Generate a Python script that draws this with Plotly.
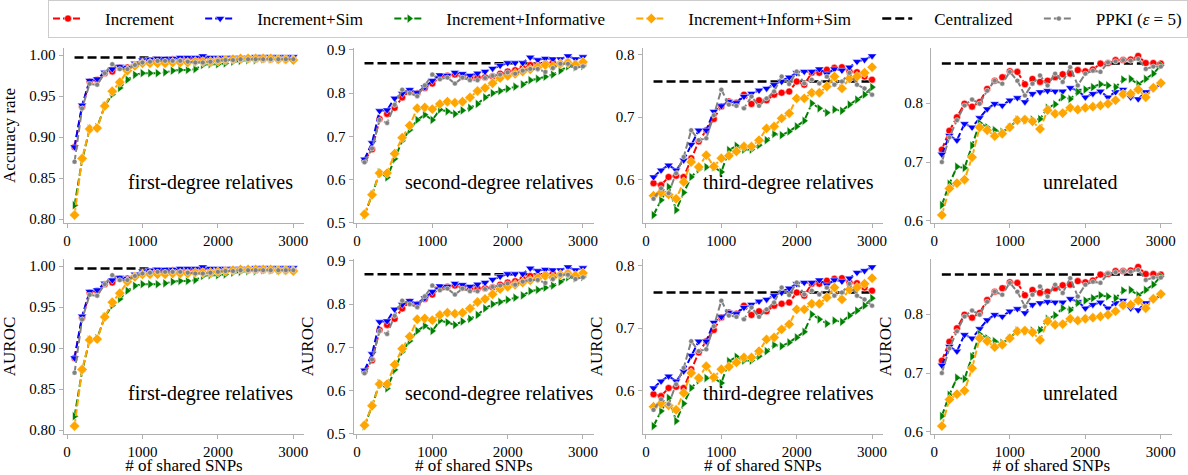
import plotly.graph_objects as go

SNPS = list(range(100, 3001, 100))
PANELS = ["first-degree relatives", "second-degree relatives", "third-degree relatives", "unrelated"]
METHODS = ["Increment", "Increment+Sim", "Increment+Informative", "Increment+Inform+Sim", "Centralized", "PPKI (<i>ε</i> = 5)"]

# ---- first-degree relatives ----
inc_1 = [0.888, 0.937, 0.968, 0.970, 0.978, 0.980, 0.985, 0.985, 0.988, 0.992, 0.993, 0.994, 0.994, 0.995, 0.995,
         0.995, 0.995, 0.996, 0.995, 0.995, 0.995, 0.995, 0.995, 0.995, 0.995, 0.995, 0.995, 0.995, 0.995, 0.995]
sim_1 = [0.888, 0.939, 0.969, 0.971, 0.979, 0.983, 0.986, 0.985, 0.990, 0.994, 0.995, 0.996, 0.996, 0.996, 0.997,
         0.997, 0.997, 0.999, 0.997, 0.997, 0.997, 0.997, 0.997, 0.997, 0.998, 0.998, 0.998, 0.998, 0.998, 0.998]
info_1 = [0.817, 0.872, 0.910, 0.912, 0.938, 0.952, 0.960, 0.970, 0.976, 0.978, 0.978, 0.978, 0.979, 0.981, 0.982,
          0.982, 0.983, 0.988, 0.989, 0.989, 0.990, 0.992, 0.993, 0.994, 0.994, 0.995, 0.995, 0.995, 0.995, 0.995]
infsim_1 = [0.805, 0.874, 0.910, 0.911, 0.938, 0.956, 0.967, 0.981, 0.987, 0.990, 0.990, 0.990, 0.990, 0.991, 0.991,
            0.991, 0.992, 0.992, 0.992, 0.993, 0.994, 0.995, 0.996, 0.996, 0.996, 0.996, 0.996, 0.995, 0.995, 0.994]
ppki_1 = [0.870, 0.935, 0.965, 0.964, 0.978, 0.989, 0.983, 0.983, 0.988, 0.991, 0.992, 0.993, 0.993, 0.993, 0.993,
          0.992, 0.991, 0.991, 0.992, 0.993, 0.994, 0.994, 0.995, 0.995, 0.995, 0.995, 0.995, 0.995, 0.995, 0.995]
cent_1 = 0.997

# ---- second-degree relatives ----
inc_2 = [0.645, 0.670, 0.740, 0.752, 0.766, 0.790, 0.805, 0.800, 0.812, 0.822, 0.838, 0.840, 0.843, 0.838, 0.836,
         0.836, 0.837, 0.839, 0.845, 0.850, 0.853, 0.858, 0.865, 0.866, 0.868, 0.871, 0.868, 0.872, 0.867, 0.868]
sim_2 = [0.647, 0.685, 0.759, 0.761, 0.788, 0.799, 0.808, 0.801, 0.814, 0.829, 0.842, 0.841, 0.848, 0.845, 0.841,
         0.846, 0.850, 0.857, 0.864, 0.870, 0.870, 0.870, 0.883, 0.877, 0.880, 0.879, 0.879, 0.886, 0.879, 0.884]
info_2 = [0.518, 0.565, 0.617, 0.605, 0.648, 0.690, 0.715, 0.738, 0.750, 0.738, 0.762, 0.758, 0.752, 0.760, 0.766,
          0.775, 0.790, 0.800, 0.805, 0.810, 0.815, 0.820, 0.830, 0.833, 0.838, 0.843, 0.852, 0.862, 0.860, 0.863]
infsim_2 = [0.520, 0.565, 0.615, 0.615, 0.660, 0.697, 0.725, 0.765, 0.767, 0.763, 0.775, 0.780, 0.778, 0.780, 0.790,
            0.805, 0.812, 0.823, 0.835, 0.840, 0.845, 0.850, 0.855, 0.860, 0.865, 0.862, 0.868, 0.870, 0.866, 0.872]
ppki_2 = [0.640, 0.672, 0.738, 0.731, 0.773, 0.808, 0.800, 0.793, 0.818, 0.843, 0.832, 0.836, 0.822, 0.836, 0.830,
          0.830, 0.835, 0.840, 0.843, 0.848, 0.845, 0.852, 0.856, 0.856, 0.849, 0.858, 0.868, 0.868, 0.858, 0.862]
cent_2 = 0.869

# ---- third-degree relatives ----
inc_3 = [0.594, 0.591, 0.604, 0.606, 0.604, 0.634, 0.661, 0.679, 0.697, 0.717, 0.725, 0.723, 0.736, 0.721, 0.727,
         0.727, 0.736, 0.739, 0.741, 0.757, 0.752, 0.771, 0.771, 0.776, 0.779, 0.780, 0.773, 0.772, 0.765, 0.760]
sim_3 = [0.604, 0.615, 0.623, 0.615, 0.631, 0.656, 0.679, 0.679, 0.709, 0.718, 0.725, 0.723, 0.733, 0.738, 0.743,
         0.746, 0.752, 0.757, 0.764, 0.771, 0.773, 0.773, 0.777, 0.769, 0.777, 0.775, 0.780, 0.789, 0.792, 0.798]
info_3 = [0.543, 0.567, 0.588, 0.551, 0.579, 0.604, 0.616, 0.620, 0.620, 0.612, 0.647, 0.654, 0.648, 0.648, 0.655,
          0.663, 0.673, 0.671, 0.677, 0.685, 0.694, 0.722, 0.714, 0.707, 0.712, 0.710, 0.720, 0.728, 0.736, 0.748]
infsim_3 = [0.574, 0.579, 0.576, 0.569, 0.596, 0.628, 0.620, 0.639, 0.621, 0.634, 0.638, 0.645, 0.653, 0.653, 0.663,
            0.682, 0.685, 0.698, 0.706, 0.730, 0.730, 0.739, 0.739, 0.749, 0.765, 0.746, 0.762, 0.765, 0.771, 0.780]
ppki_3 = [0.569, 0.586, 0.578, 0.610, 0.636, 0.679, 0.663, 0.666, 0.703, 0.744, 0.720, 0.718, 0.714, 0.733, 0.718,
          0.730, 0.741, 0.765, 0.753, 0.773, 0.754, 0.760, 0.754, 0.765, 0.752, 0.757, 0.771, 0.752, 0.746, 0.736]
cent_3 = 0.757

# ---- unrelated ----
inc_4 = [0.721, 0.753, 0.776, 0.799, 0.794, 0.802, 0.824, 0.838, 0.844, 0.854, 0.853, 0.832, 0.841, 0.836, 0.838,
         0.844, 0.849, 0.850, 0.856, 0.854, 0.857, 0.867, 0.868, 0.873, 0.873, 0.874, 0.880, 0.868, 0.868, 0.867]
sim_4 = [0.713, 0.745, 0.737, 0.765, 0.759, 0.775, 0.790, 0.799, 0.796, 0.805, 0.809, 0.802, 0.816, 0.819, 0.821,
         0.820, 0.820, 0.826, 0.821, 0.810, 0.816, 0.820, 0.810, 0.819, 0.823, 0.810, 0.807, 0.819, 0.824, 0.832]
info_4 = [0.627, 0.663, 0.692, 0.690, 0.728, 0.766, 0.759, 0.754, 0.751, 0.759, 0.772, 0.771, 0.772, 0.773, 0.792,
          0.798, 0.810, 0.807, 0.819, 0.823, 0.827, 0.832, 0.830, 0.827, 0.840, 0.841, 0.832, 0.841, 0.850, 0.864]
infsim_4 = [0.610, 0.655, 0.664, 0.670, 0.708, 0.759, 0.754, 0.744, 0.748, 0.759, 0.771, 0.772, 0.769, 0.756, 0.788,
            0.782, 0.783, 0.792, 0.789, 0.792, 0.794, 0.796, 0.799, 0.805, 0.815, 0.816, 0.823, 0.810, 0.826, 0.834]
ppki_4 = [0.700, 0.742, 0.771, 0.796, 0.806, 0.799, 0.821, 0.838, 0.833, 0.853, 0.838, 0.813, 0.833, 0.847, 0.830,
          0.850, 0.836, 0.861, 0.830, 0.850, 0.855, 0.853, 0.869, 0.871, 0.873, 0.872, 0.875, 0.858, 0.862, 0.862]
cent_4 = 0.867

SERIES = [
    [inc_1, sim_1, info_1, infsim_1, cent_1, ppki_1],
    [inc_2, sim_2, info_2, infsim_2, cent_2, ppki_2],
    [inc_3, sim_3, info_3, infsim_3, cent_3, ppki_3],
    [inc_4, sim_4, info_4, infsim_4, cent_4, ppki_4],
]
ROW_YLABEL = ["Accuracy rate", "AUROC"]

COLORS = ["#ff0000", "#0000ff", "#008000", "#ffa500", "#000000", "#808080"]
SYMBOLS = ["circle", "triangle-down", "triangle-right", "diamond", None, "circle"]
MSIZE = [7, 8, 8, 8, 0, 5]

W, H = 1188, 475
FONT = "Liberation Serif"
COL_PX = [(63.6, 304.3), (353.6, 593.9), (642.6, 883.0), (930.9, 1171.8)]
ROW_PX = [(48, 223), (259, 434)]
LABEL_POS = [(295, "right"), (595, "right"), (876, "right"), (1080, "center")]
SPINE = "#b0b0b0"
NB = "\u00a0"

fig = go.Figure()
layout = {}
annotations = []
# draw order: centralized first, then methods, PPKI last
draw_order = [4, 0, 1, 2, 3, 5]

for r in range(2):
    for c in range(4):
        k = r * 4 + c + 1
        xa = "x" if k == 1 else f"x{k}"
        ya = "y" if k == 1 else f"y{k}"
        data = SERIES[c]
        for m in draw_order:
            vals = data[m]
            show = (k == 1)
            legname = NB * 4 + METHODS[m] + NB * (0 if m == 5 else 5)
            if m == 4:
                fig.add_trace(go.Scatter(
                    x=SNPS, y=[vals] * len(SNPS), mode="lines", name=legname,
                    line=dict(color=COLORS[m], width=2.5, dash="9px,4px"),
                    xaxis=xa, yaxis=ya, showlegend=show, legendgroup=METHODS[m], legendrank=m + 1))
            else:
                fig.add_trace(go.Scatter(
                    x=SNPS, y=vals, mode="lines+markers", name=legname,
                    line=dict(color=COLORS[m], width=2, dash="7px,3px"),
                    marker=dict(symbol=SYMBOLS[m], size=MSIZE[m], color=COLORS[m],
                                line=dict(color="white", width=0.5)),
                    xaxis=xa, yaxis=ya, showlegend=show, legendgroup=METHODS[m], legendrank=m + 1))
        # y range like matplotlib autoscale (5% margin)
        allv = []
        for m in range(6):
            allv += data[m] if isinstance(data[m], list) else [data[m]]
        lo, hi = min(allv), max(allv)
        pad = 0.05 * (hi - lo)
        x0, x1 = COL_PX[c]
        y0, y1 = ROW_PX[r]
        layout["xaxis" if k == 1 else f"xaxis{k}"] = dict(
            domain=[x0 / W, x1 / W], range=[-45, 3145], anchor=ya,
            tickvals=[0, 1000, 2000, 3000], showline=True, linecolor=SPINE, linewidth=1,
            ticks="outside", ticklen=4, tickcolor=SPINE, showgrid=False, zeroline=False,
            tickfont=dict(size=15, color="black", family=FONT),
            title=dict(text="# of shared SNPs" if r == 1 else "", font=dict(size=17, family=FONT, color="black"),
                       standoff=2),
        )
        layout["yaxis" if k == 1 else f"yaxis{k}"] = dict(
            domain=[(H - y1) / H, (H - y0) / H], range=[lo - pad, hi + pad], anchor=xa,
            dtick=0.05 if c == 0 else 0.1, tick0=0, tickformat=".2f" if c == 0 else ".1f",
            showline=True, linecolor=SPINE, linewidth=1,
            ticks="outside", ticklen=4, tickcolor=SPINE, showgrid=False, zeroline=False,
            tickfont=dict(size=15, color="black", family=FONT),
            title=dict(text=(ROW_YLABEL[r] if (r == 1 or c == 0) else ""),
                       font=dict(size=17, family=FONT, color="black"), standoff=11 if c == 0 else 8),
        )
        lx, anc = LABEL_POS[c]
        annotations.append(dict(
            text=PANELS[c], x=lx / W, y=(H - (182 + 211 * r)) / H, xref="paper", yref="paper",
            xanchor=anc, yanchor="middle", showarrow=False,
            font=dict(size=20, family=FONT, color="black")))

fig.update_layout(
    **layout,
    annotations=annotations,
    width=W, height=H,
    margin=dict(l=0, r=0, t=0, b=0, autoexpand=False),
    paper_bgcolor="white", plot_bgcolor="white",
    font=dict(family=FONT, color="black"),
    legend=dict(orientation="h", x=618 / W, xanchor="center", y=1.0, yanchor="top",
                font=dict(size=17, family=FONT, color="black"),
                bordercolor="#cccccc", borderwidth=1, bgcolor="white",
                itemwidth=30, tracegroupgap=0),
)

fig.write_html("out.html", config={"displayModeBar": False},
               post_script="document.body.style.margin='0';document.body.style.overflow='hidden';")
